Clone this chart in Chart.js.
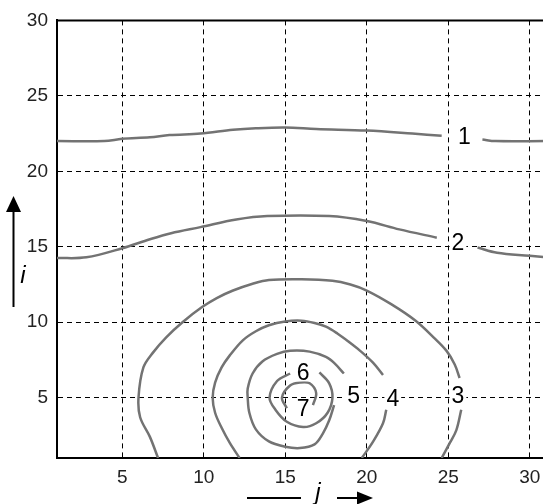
<!DOCTYPE html>
<html>
<head>
<meta charset="utf-8">
<script src="https://cdn.jsdelivr.net/npm/chart.js@4.4.0/dist/chart.umd.min.js"></script>
<style>
  html, body { margin: 0; padding: 0; background: #fff; overflow: hidden; }
  canvas { display: block; }
</style>
</head>
<body>
<canvas id="contour" width="560" height="504"></canvas>
<script>
const xTicks = [5, 10, 15, 20, 25, 30];
const yTicks = [5, 10, 15, 20, 25, 30];

// contour lines as [j, i] points, split where the level numbers sit
const level1a = [[1, 22], [3.9, 22], [5, 22.15], [6.7, 22.25], [7.9, 22.4], [9.8, 22.5], [11.8, 22.75], [13.2, 22.85], [15, 22.9], [16.9, 22.8], [20, 22.7], [22.8, 22.5], [24.6, 22.35]];
const level1b = [[27.1, 22.1], [27.9, 22], [31, 22]];
const level2a = [[1, 14.25], [2.8, 14.3], [5, 14.9], [6.7, 15.5], [8, 15.9], [9.8, 16.3], [12, 16.8], [13.9, 17.03], [17.7, 17.03], [20, 16.7], [22, 16.15], [24.3, 15.6]];
const level2b = [[26.8, 14.95], [28, 14.6], [30, 14.4], [31, 14.3]];
const level3a = [[7.2, 1], [6.7, 2.4], [6.1, 3.7], [6, 5], [6.3, 7], [6.9, 8], [7.7, 9], [8.7, 10], [9.9, 11], [10.8, 11.6], [11.8, 12.1], [13, 12.55], [14, 12.8], [16, 12.85], [17.9, 12.75], [19, 12.5], [20, 12.1], [21.5, 11.2], [23, 10.1], [24.1, 9], [24.9, 8.1], [25.4, 7.2], [25.7, 6.3]];
const level3b = [[25.8, 4.2], [25.5, 2.85], [25.1, 2], [24.6, 1]];
const level4a = [[12.2, 1], [11.6, 2], [11.1, 3], [10.7, 4], [10.55, 5], [10.7, 6], [11.1, 7], [11.6, 7.8], [12.4, 8.8], [13.2, 9.4], [14, 9.8], [15, 10.05], [16, 10.1], [16.8, 9.95], [17.5, 9.7], [18.2, 9.25], [18.9, 8.7], [19.6, 8.1], [20.4, 7.3], [21, 6.5]];
const level4b = [[21.2, 4.2], [21, 3.3], [20.4, 2.1], [19.7, 1]];
const level5 = [[18.6, 6.6], [18, 7.3], [17.5, 7.7], [16.5, 8.05], [15.3, 8.1], [14.5, 7.9], [13.6, 7.4], [13, 6.6], [12.7, 5.6], [12.7, 5], [12.8, 4], [13.2, 2.9], [14, 2.1], [15, 1.75], [15.9, 1.66], [16.8, 1.9], [17.3, 2.6], [17.7, 3.5], [18, 4.5]];
const level6 = [[17.1, 6.67], [17.7, 5.95], [17.9, 5], [17.6, 4], [16.9, 3.3], [16.1, 3.05], [15.1, 3.4], [14.4, 4.2], [14.04, 5], [14.5, 6.1], [15.3, 6.6]];
const level7 = [[15.1, 4.3], [14.8, 5], [15.3, 5.8], [15.9, 6], [16.5, 5.95], [16.9, 5.3], [16.7, 4.5]];

const levelLabels = [
  { text: '1', x: 26.0, y: 22.3 },
  { text: '2', x: 25.6, y: 15.27 },
  { text: '3', x: 25.6, y: 5.15 },
  { text: '4', x: 21.6, y: 4.9 },
  { text: '5', x: 19.2, y: 5.15 },
  { text: '6', x: 16.1, y: 6.67 },
  { text: '7', x: 16.1, y: 4.3 }
];

const contours = [level1a, level1b, level2a, level2b, level3a, level3b, level4a, level4b, level5, level6, level7];

const FONT = '"Liberation Sans", Arial, sans-serif';

const extras = {
  id: 'extras',
  afterDraw(chart) {
    const { ctx, chartArea: a, scales: { x, y } } = chart;
    ctx.save();

    // top / right frame
    ctx.strokeStyle = '#000';
    ctx.lineWidth = 2;
    ctx.beginPath();
    ctx.moveTo(a.left, a.top);
    ctx.lineTo(a.right, a.top);
    ctx.lineTo(a.right, a.bottom);
    ctx.stroke();

    // level numbers
    ctx.font = '23px ' + FONT;
    ctx.textAlign = 'center';
    ctx.textBaseline = 'middle';
    levelLabels.forEach(l => {
      const px = x.getPixelForValue(l.x);
      const py = y.getPixelForValue(l.y);
      const w = ctx.measureText(l.text).width;
      ctx.fillStyle = '#fff';
      ctx.fillRect(px - w / 2 - 2, py - 9, w + 4, 18);
      ctx.fillStyle = '#000';
      ctx.fillText(l.text, px, py + 1);
    });

    // j axis title with arrow
    ctx.lineWidth = 2;
    ctx.beginPath();
    ctx.moveTo(247, 498);
    ctx.lineTo(301, 498);
    ctx.moveTo(337, 498);
    ctx.lineTo(358, 498);
    ctx.stroke();
    ctx.beginPath();
    ctx.moveTo(373, 498);
    ctx.lineTo(357, 491.5);
    ctx.lineTo(357, 504.5);
    ctx.closePath();
    ctx.fill();
    ctx.font = 'italic 24px ' + FONT;
    ctx.textBaseline = 'alphabetic';
    ctx.fillText('j', 318, 500);

    // i axis title with arrow
    ctx.beginPath();
    ctx.moveTo(13.5, 307);
    ctx.lineTo(13.5, 210);
    ctx.stroke();
    ctx.beginPath();
    ctx.moveTo(13.5, 196);
    ctx.lineTo(6, 212);
    ctx.lineTo(21, 212);
    ctx.closePath();
    ctx.fill();
    ctx.fillText('i', 23, 283);

    ctx.restore();
  }
};

const axisCommon = {
  type: 'linear',
  z: 1,
  grid: { color: '#000', lineWidth: 1, drawTicks: false },
  border: { color: '#000', width: 2, dash: [5, 4] },
  ticks: { color: '#222', font: { family: FONT, size: 19 } }
};

new Chart(document.getElementById('contour'), {
  type: 'scatter',
  data: {
    datasets: contours.map(pts => ({
      data: pts.map(([x, y]) => ({ x, y })),
      showLine: true,
      borderColor: '#737373',
      borderWidth: 2.5,
      pointRadius: 0,
      tension: 0.35
    }))
  },
  options: {
    responsive: false,
    animation: false,
    layout: { padding: { top: 18, right: 14, left: 0, bottom: 0 } },
    plugins: { legend: { display: false }, tooltip: { enabled: false } },
    scales: {
      x: {
        ...axisCommon,
        min: 1, max: 31,
        ticks: { ...axisCommon.ticks, padding: 8 },
        afterBuildTicks: s => { s.ticks = xTicks.map(v => ({ value: v })); },
        afterFit: s => { s.height = 46; }
      },
      y: {
        ...axisCommon,
        min: 1, max: 30,
        ticks: { ...axisCommon.ticks, padding: 9 },
        afterBuildTicks: s => { s.ticks = yTicks.map(v => ({ value: v })); },
        afterFit: s => { s.width = 57; }
      }
    }
  },
  plugins: [extras]
});
</script>
</body>
</html>
